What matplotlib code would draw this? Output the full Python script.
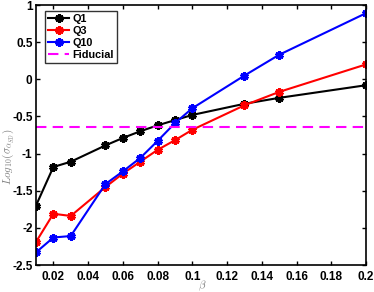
import numpy as np
import matplotlib.pyplot as plt

# data
beta = [0.01, 0.02, 0.03, 0.05, 0.06, 0.07, 0.08, 0.09, 0.10, 0.13, 0.15, 0.20]
q1 = [-1.70, -1.18, -1.11, -0.89, -0.79, -0.70, -0.62, -0.55, -0.48, -0.33, -0.25, -0.08]
q3 = [-2.19, -1.81, -1.84, -1.45, -1.27, -1.11, -0.95, -0.82, -0.68, -0.35, -0.17, 0.20]
q10 = [-2.33, -2.13, -2.11, -1.41, -1.24, -1.06, -0.83, -0.59, -0.39, 0.05, 0.33, 0.89]
fiducial = -0.64

xticks = [0.02, 0.04, 0.06, 0.08, 0.1, 0.12, 0.14, 0.16, 0.18, 0.2]
yticks = [-2.5, -2, -1.5, -1, -0.5, 0, 0.5, 1]

plt.rcParams['font.family'] = ['Liberation Sans', 'DejaVu Sans']
plt.rcParams['mathtext.fontset'] = 'cm'

fig = plt.figure(figsize=(3.74, 2.92), dpi=100)
ax = fig.add_axes([36 / 374, 27 / 292, 330 / 374, 260 / 292])

# MATLAB-like '*' marker: filled asterisk
style = dict(marker=(6, 2, 0), markersize=6, markeredgewidth=2.2, linewidth=1.5)
ax.plot(beta, q1, color='black', label='Q1', **style)
ax.plot(beta, q3, color='red', label='Q3', **style)
ax.plot(beta, q10, color='blue', label='Q10', **style)
ax.axhline(fiducial, color='magenta', linestyle='--', linewidth=1.5, dashes=(5, 3), label='Fiducial')

ax.set_xlim(0.01, 0.2)
ax.set_ylim(-2.5, 1)
ax.set_xticks(xticks)
ax.set_xticklabels([f'{v:g}' for v in xticks])
ax.set_yticks(yticks)
ax.set_yticklabels([f'{v:g}' for v in yticks])
ax.tick_params(direction='in', top=True, right=True, labelsize=8.5, length=3, width=1)
ax.tick_params(axis='x', pad=4)
ax.tick_params(axis='y', pad=2.5)
for lbl in ax.get_xticklabels() + ax.get_yticklabels():
    lbl.set_fontweight('bold')
for s in ax.spines.values():
    s.set_linewidth(1.2)

# axis labels placed in figure pixels so they stay inside the canvas
fig.text(202 / 374, 6 / 292, r'$\beta$', color='gray', fontsize=8,
         ha='center', va='center')
fig.text(1 / 374, 135 / 292, r'$Log_{10}(\sigma_{\alpha_{SD}})$', color='gray',
         fontsize=8, rotation=90, ha='left', va='center')

leg = ax.legend(loc='upper left', bbox_to_anchor=(9 / 330, 1 - 6 / 260),
                prop={'weight': 'bold', 'size': 7.8},
                fancybox=False, edgecolor='black', handlelength=2.0,
                borderpad=0.25, labelspacing=0.2, handletextpad=0.3,
                borderaxespad=0.0)
leg.get_frame().set_linewidth(1.0)

fig.savefig('out.png', dpi=100)
